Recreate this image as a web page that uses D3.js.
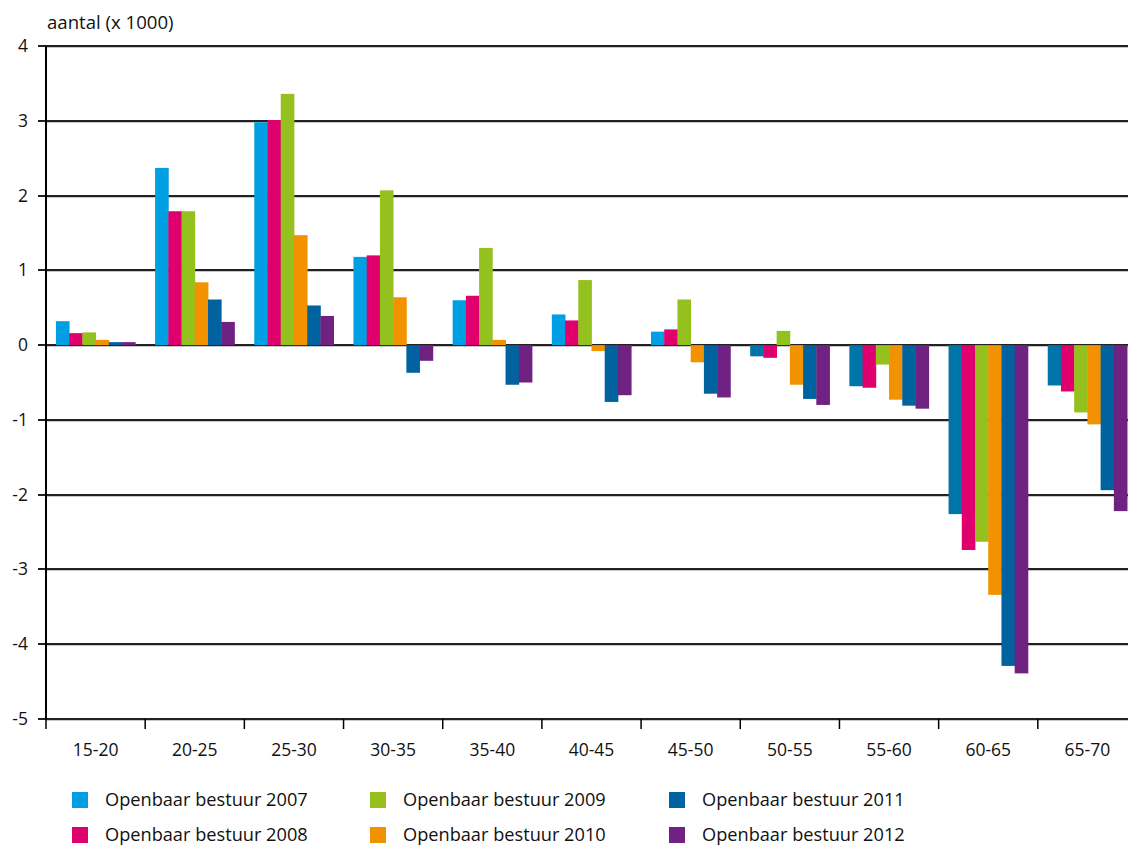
<!DOCTYPE html>
<head>
<meta charset="utf-8">
<title>Openbaar bestuur, verschil per leeftijdsklasse</title>
<script src="https://d3js.org/d3.v7.min.js"></script>
<style>
body {
  margin: 0;
  font-family: "Open Sans", Lato, sans-serif;
  background: #fff;
}
svg {
  display: block;
}
.grid line {
  stroke: #222;
  stroke-width: 2px;
  shape-rendering: crispEdges;
}
.grid line.shadow {
  stroke: #c8c8c8;
  stroke-width: 1px;
}
.axis text {
  font-size: 17.5px;
  fill: #111;
}
.legend text {
  font-size: 18.2px;
  fill: #111;
}
</style>
</head>
<body>
<script>

const categories = ["15-20", "20-25", "25-30", "30-35", "35-40", "40-45", "45-50", "50-55", "55-60", "60-65", "65-70"];
const seriesNames = ["Openbaar bestuur 2007", "Openbaar bestuur 2008", "Openbaar bestuur 2009",
                     "Openbaar bestuur 2010", "Openbaar bestuur 2011", "Openbaar bestuur 2012"];
const yTicks = [4, 3, 2, 1, 0, -1, -2, -3, -4, -5];

// waarden in duizenden, per leeftijdsklasse
const v2007 = [0.32, 2.37, 2.98, 1.18, 0.60, 0.41, 0.18, -0.15, -0.55, -2.26, -0.54];
const v2008 = [0.16, 1.79, 3.01, 1.20, 0.66, 0.33, 0.21, -0.17, -0.57, -2.74, -0.62];
const v2009 = [0.17, 1.79, 3.36, 2.07, 1.30, 0.87, 0.61, 0.19, -0.26, -2.63, -0.90];
const v2010 = [0.07, 0.84, 1.47, 0.64, 0.07, -0.08, -0.23, -0.53, -0.73, -3.34, -1.06];
const v2011 = [0.04, 0.61, 0.53, -0.37, -0.53, -0.76, -0.65, -0.72, -0.81, -4.29, -1.94];
const v2012 = [0.04, 0.31, 0.39, -0.21, -0.50, -0.67, -0.70, -0.80, -0.85, -4.39, -2.22];

const series = [v2007, v2008, v2009, v2010, v2011, v2012];
const colors = ["#009fe3", "#e0006d", "#95c11f", "#f39200", "#0063a0", "#702283"];

const width = 1128, height = 845;
const plotLeft = 46, plotRight = 1137, plotTop = 46, plotBottom = 719;

const svg = d3.select("body").append("svg")
  .attr("width", width)
  .attr("height", height);

const y = d3.scaleLinear()
  .domain([-5, 4])
  .range([plotBottom, plotTop]);

const x0 = d3.scaleBand()
  .domain(categories)
  .range([plotLeft, plotRight]);

const pad = x0.bandwidth() * 0.1;
const x1 = d3.scaleBand()
  .domain(d3.range(series.length))
  .range([pad, x0.bandwidth() - pad]);

// gridlines
let grid = svg.append("g").attr("class", "grid");
grid.selectAll("line.shadow")
  .data(yTicks)
  .enter().append("line")
    .attr("class", "shadow")
    .attr("x1", plotLeft).attr("x2", width)
    .attr("y1", d => Math.round(y(d)) + 1.5)
    .attr("y2", d => Math.round(y(d)) + 1.5);
grid.selectAll("line.main")
  .data(yTicks)
  .enter().append("line")
    .attr("class", "main")
    .attr("x1", plotLeft - 8).attr("x2", width)
    .attr("y1", d => Math.round(y(d)))
    .attr("y2", d => Math.round(y(d)));

// bars
let groups = svg.append("g")
  .selectAll("g")
  .data(categories)
  .enter().append("g")
    .attr("transform", d => "translate(" + x0(d) + ",0)");

groups.selectAll("rect")
  .data((c, ci) => series.map((s, si) => ({si: si, value: s[ci]})))
  .enter().append("rect")
    .attr("x", d => x1(d.si))
    .attr("width", x1.bandwidth() + 0.4)
    .attr("y", d => y(Math.max(0, d.value)))
    .attr("height", d => Math.abs(y(d.value) - y(0)))
    // negatieve 2007-staven zijn in het origineel donkerder blauw
    .style("fill", d => (d.si === 0 && d.value < 0) ? "#0075a9" : colors[d.si]);

// y axis line
svg.append("line")
  .attr("x1", plotLeft).attr("x2", plotLeft)
  .attr("y1", plotTop).attr("y2", plotBottom)
  .style("stroke", "#000")
  .style("stroke-width", 2);

// y labels
svg.append("g").attr("class", "axis")
  .selectAll("text")
  .data(yTicks)
  .enter().append("text")
    .attr("x", 28)
    .attr("y", d => y(d) + 6)
    .attr("text-anchor", "end")
    .text(d => d < 0 ? "-" + Math.abs(d) : d);

// x ticks + labels
let xAxis = svg.append("g").attr("class", "axis");
xAxis.selectAll("line")
  .data(categories.concat(["end"]))
  .enter().append("line")
    .attr("x1", d => d === "end" ? plotRight : x0(d))
    .attr("x2", d => d === "end" ? plotRight : x0(d))
    .attr("y1", plotBottom).attr("y2", plotBottom + 10)
    .style("stroke", "#000")
    .style("stroke-width", 1.5);
xAxis.selectAll("text")
  .data(categories)
  .enter().append("text")
    .attr("x", d => x0(d) + x0.bandwidth() / 2)
    .attr("y", 756)
    .attr("text-anchor", "middle")
    .text(d => d);

// titel as
svg.append("text")
  .attr("x", 47)
  .attr("y", 29)
  .style("font-size", "18.6px")
  .style("fill", "#111")
  .text("aantal (x 1000)");

// legend
const legX = [72, 370, 669];
const legY = [792, 827];
let legend = svg.append("g").attr("class", "legend")
  .selectAll("g")
  .data(seriesNames)
  .enter().append("g")
    .attr("transform", (d, i) => "translate(" + legX[Math.floor(i / 2)] + "," + legY[i % 2] + ")");

legend.append("rect")
  .attr("width", 16)
  .attr("height", 16)
  .style("fill", (d, i) => colors[i]);

legend.append("text")
  .attr("x", 33)
  .attr("y", 14)
  .text(d => d);

</script>
</body>
